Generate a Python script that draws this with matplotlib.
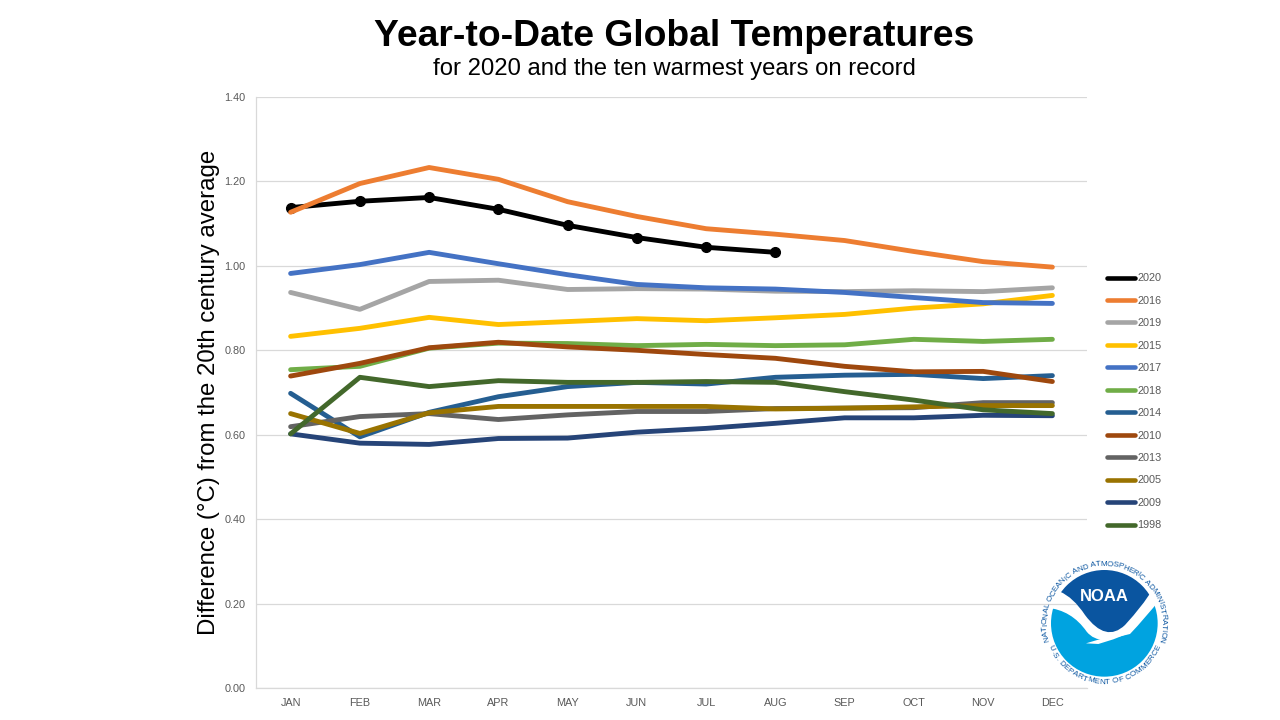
import numpy as np
import matplotlib
matplotlib.use("Agg")
import matplotlib.pyplot as plt
from matplotlib.patches import Circle, Polygon, PathPatch
from matplotlib.path import Path

months = ["JAN","FEB","MAR","APR","MAY","JUN","JUL","AUG","SEP","OCT","NOV","DEC"]
y2020 = [1.138,1.153,1.162,1.134,1.096,1.067,1.044,1.032]
y2016 = [1.127,1.195,1.233,1.205,1.152,1.117,1.088,1.075,1.060,1.034,1.010,0.997]
y2019 = [.937,.897,.963,.966,.944,.946,.945,.940,.939,.941,.939,.948]
y2015 = [.833,.852,.878,.861,.868,.875,.870,.877,.885,.900,.910,.930]
y2017 = [.982,1.003,1.032,1.005,.979,.956,.948,.945,.937,.925,.913,.911]
y2018 = [.754,.762,.805,.817,.816,.811,.814,.811,.813,.826,.821,.826]
y2014 = [.698,.595,.653,.690,.714,.724,.720,.736,.741,.743,.733,.740]
y2010 = [.739,.769,.806,.819,.808,.800,.790,.781,.762,.749,.750,.726]
y2013 = [.619,.643,.650,.636,.647,.655,.655,.662,.663,.664,.676,.676]
y2005 = [.650,.603,.652,.667,.667,.667,.667,.661,.663,.666,.669,.669]
y2009 = [.602,.580,.577,.591,.592,.606,.615,.627,.640,.640,.646,.645]
y1998 = [.602,.736,.714,.728,.724,.724,.726,.724,.702,.682,.659,.650]

series = [("2020",y2020,"#000000"),("2016",y2016,"#ED7D31"),("2019",y2019,"#A5A5A5"),
          ("2015",y2015,"#FFC000"),("2017",y2017,"#4472C4"),("2018",y2018,"#70AD47"),
          ("2014",y2014,"#255E91"),("2010",y2010,"#9E480E"),("2013",y2013,"#636363"),
          ("2005",y2005,"#997300"),("2009",y2009,"#264478"),("1998",y1998,"#43682B")]

W, H = 1280, 720
plt.rcParams['font.family'] = ['Liberation Sans', 'DejaVu Sans']
fig = plt.figure(figsize=(12.8, 7.2), dpi=100, facecolor="white")
ax = fig.add_axes([256/W, 1-688/H, (1087-256)/W, (688-97)/H])

for name, vals, col in series:
    if name == "2020":
        ax.plot(range(len(vals)), vals, color=col, lw=3.5, marker="o", ms=7.0,
                label=name, solid_capstyle="round", solid_joinstyle="round", zorder=2)
    else:
        ax.plot(range(len(vals)), vals, color=col, lw=3.5, label=name,
                solid_capstyle="round", solid_joinstyle="round", zorder=2)

ax.set_xlim(-0.5, 11.5)
ax.set_ylim(0, 1.4)
ax.set_yticks(np.arange(0, 1.41, 0.2))
ax.set_yticklabels([f"{v:.2f}" for v in np.arange(0, 1.41, 0.2)])
ax.set_xticks(range(12))
ax.set_xticklabels(months)
ax.tick_params(axis="both", length=0, labelsize=7.8, labelcolor="#595959")
ax.tick_params(axis="x", pad=7.5)
ax.tick_params(axis="y", pad=7.5)
ax.grid(axis="y", color="#D9D9D9", lw=0.9)
ax.set_axisbelow(True)
for s in ["top", "right"]:
    ax.spines[s].set_visible(False)
for s in ["left", "bottom"]:
    ax.spines[s].set_color("#D9D9D9")
    ax.spines[s].set_linewidth(0.9)

fig.text(674.5/W, 1-36/H, "Year-to-Date Global Temperatures", ha="center", va="center",
         fontsize=26.8, fontweight="bold", color="black")
fig.text(674.5/W, 1-69/H, "for 2020 and the ten warmest years on record", ha="center", va="center",
         fontsize=17.2, color="black")
fig.text(209/W, 1-392.5/H, "Difference (°C) from the 20th century average", rotation=90,
         ha="center", va="center", fontsize=17.3, color="black")

handles, labels = ax.get_legend_handles_labels()
leg = fig.legend(handles, labels, loc="upper left", bbox_to_anchor=(1103/W, 1-269/H),
                 frameon=False, fontsize=7.8, labelcolor="#595959", handlelength=2.55,
                 handletextpad=0.2, labelspacing=1.15, borderpad=0.4, borderaxespad=0)
for h in leg.get_lines():
    h.set_marker("None")
    h.set_linewidth(3.3)

# NOAA logo, in crop pixel coordinates
lg = fig.add_axes([1030/W, 1-690/H, 150/W, 130/H])
lg.set_xlim(0, 450); lg.set_ylim(390, 0); lg.axis("off")
cx, cy, R = 223, 190, 160
clip = Circle((cx, cy), R, transform=lg.transData)

dark = Path([(40,0),(410,0),(363,95),(340,135),(285,195),(228,250),(165,165),(130,112),(90,95),(40,0)],
            [Path.MOVETO,Path.LINETO,Path.LINETO,Path.CURVE3,Path.CURVE3,Path.CURVE3,Path.CURVE3,Path.CURVE3,Path.CURVE3,Path.CLOSEPOLY])
p = PathPatch(dark, fc="#0A55A0", ec="none"); lg.add_patch(p); p.set_clip_path(clip)

light = Path([(50,143),(125,150),(170,215),(190,240),(225,240),(300,222),(345,175),(395,112),(430,100),(430,380),(30,380),(50,143)],
             [Path.MOVETO,Path.CURVE3,Path.CURVE3,Path.CURVE3,Path.CURVE3,Path.LINETO,Path.CURVE3,Path.CURVE3,Path.LINETO,Path.LINETO,Path.LINETO,Path.CLOSEPOLY])
q = PathPatch(light, fc="#00A3E0", ec="none"); lg.add_patch(q); q.set_clip_path(clip)
lg.add_patch(Polygon([(168,250),(225,233),(295,213),(298,219),(250,238),(205,252)], fc="white", ec="none"))

lg.text(222, 109, "NOAA", ha="center", va="center", color="white", fontsize=12, fontweight="bold")

def arc_text(txt, a0, a1, r, flip=False):
    w = np.array([{"I":.4," ":.45,".":.35,"M":1.05,"L":.7,"T":.75,"E":.75,"F":.7}.get(c,.85) for c in txt])
    pos = np.cumsum(w) - w/2
    pos = (pos - pos[0]) / (pos[-1] - pos[0])
    for ch, t in zip(txt, pos):
        a = a0 + (a1-a0)*t
        x = cx + r*np.cos(np.radians(a)); y = cy - r*np.sin(np.radians(a))
        rot = a + 90 if flip else a - 90
        lg.text(x, y, ch, ha="center", va="center", rotation=rot, rotation_mode="anchor",
                fontsize=5.8, color="#0A55A0")

arc_text("NATIONAL OCEANIC AND ATMOSPHERIC ADMINISTRATION", 195, -16, 177)
arc_text("U.S. DEPARTMENT OF COMMERCE", 205, 335, 177, flip=True)

fig.savefig("out.png", dpi=100, facecolor="white")
